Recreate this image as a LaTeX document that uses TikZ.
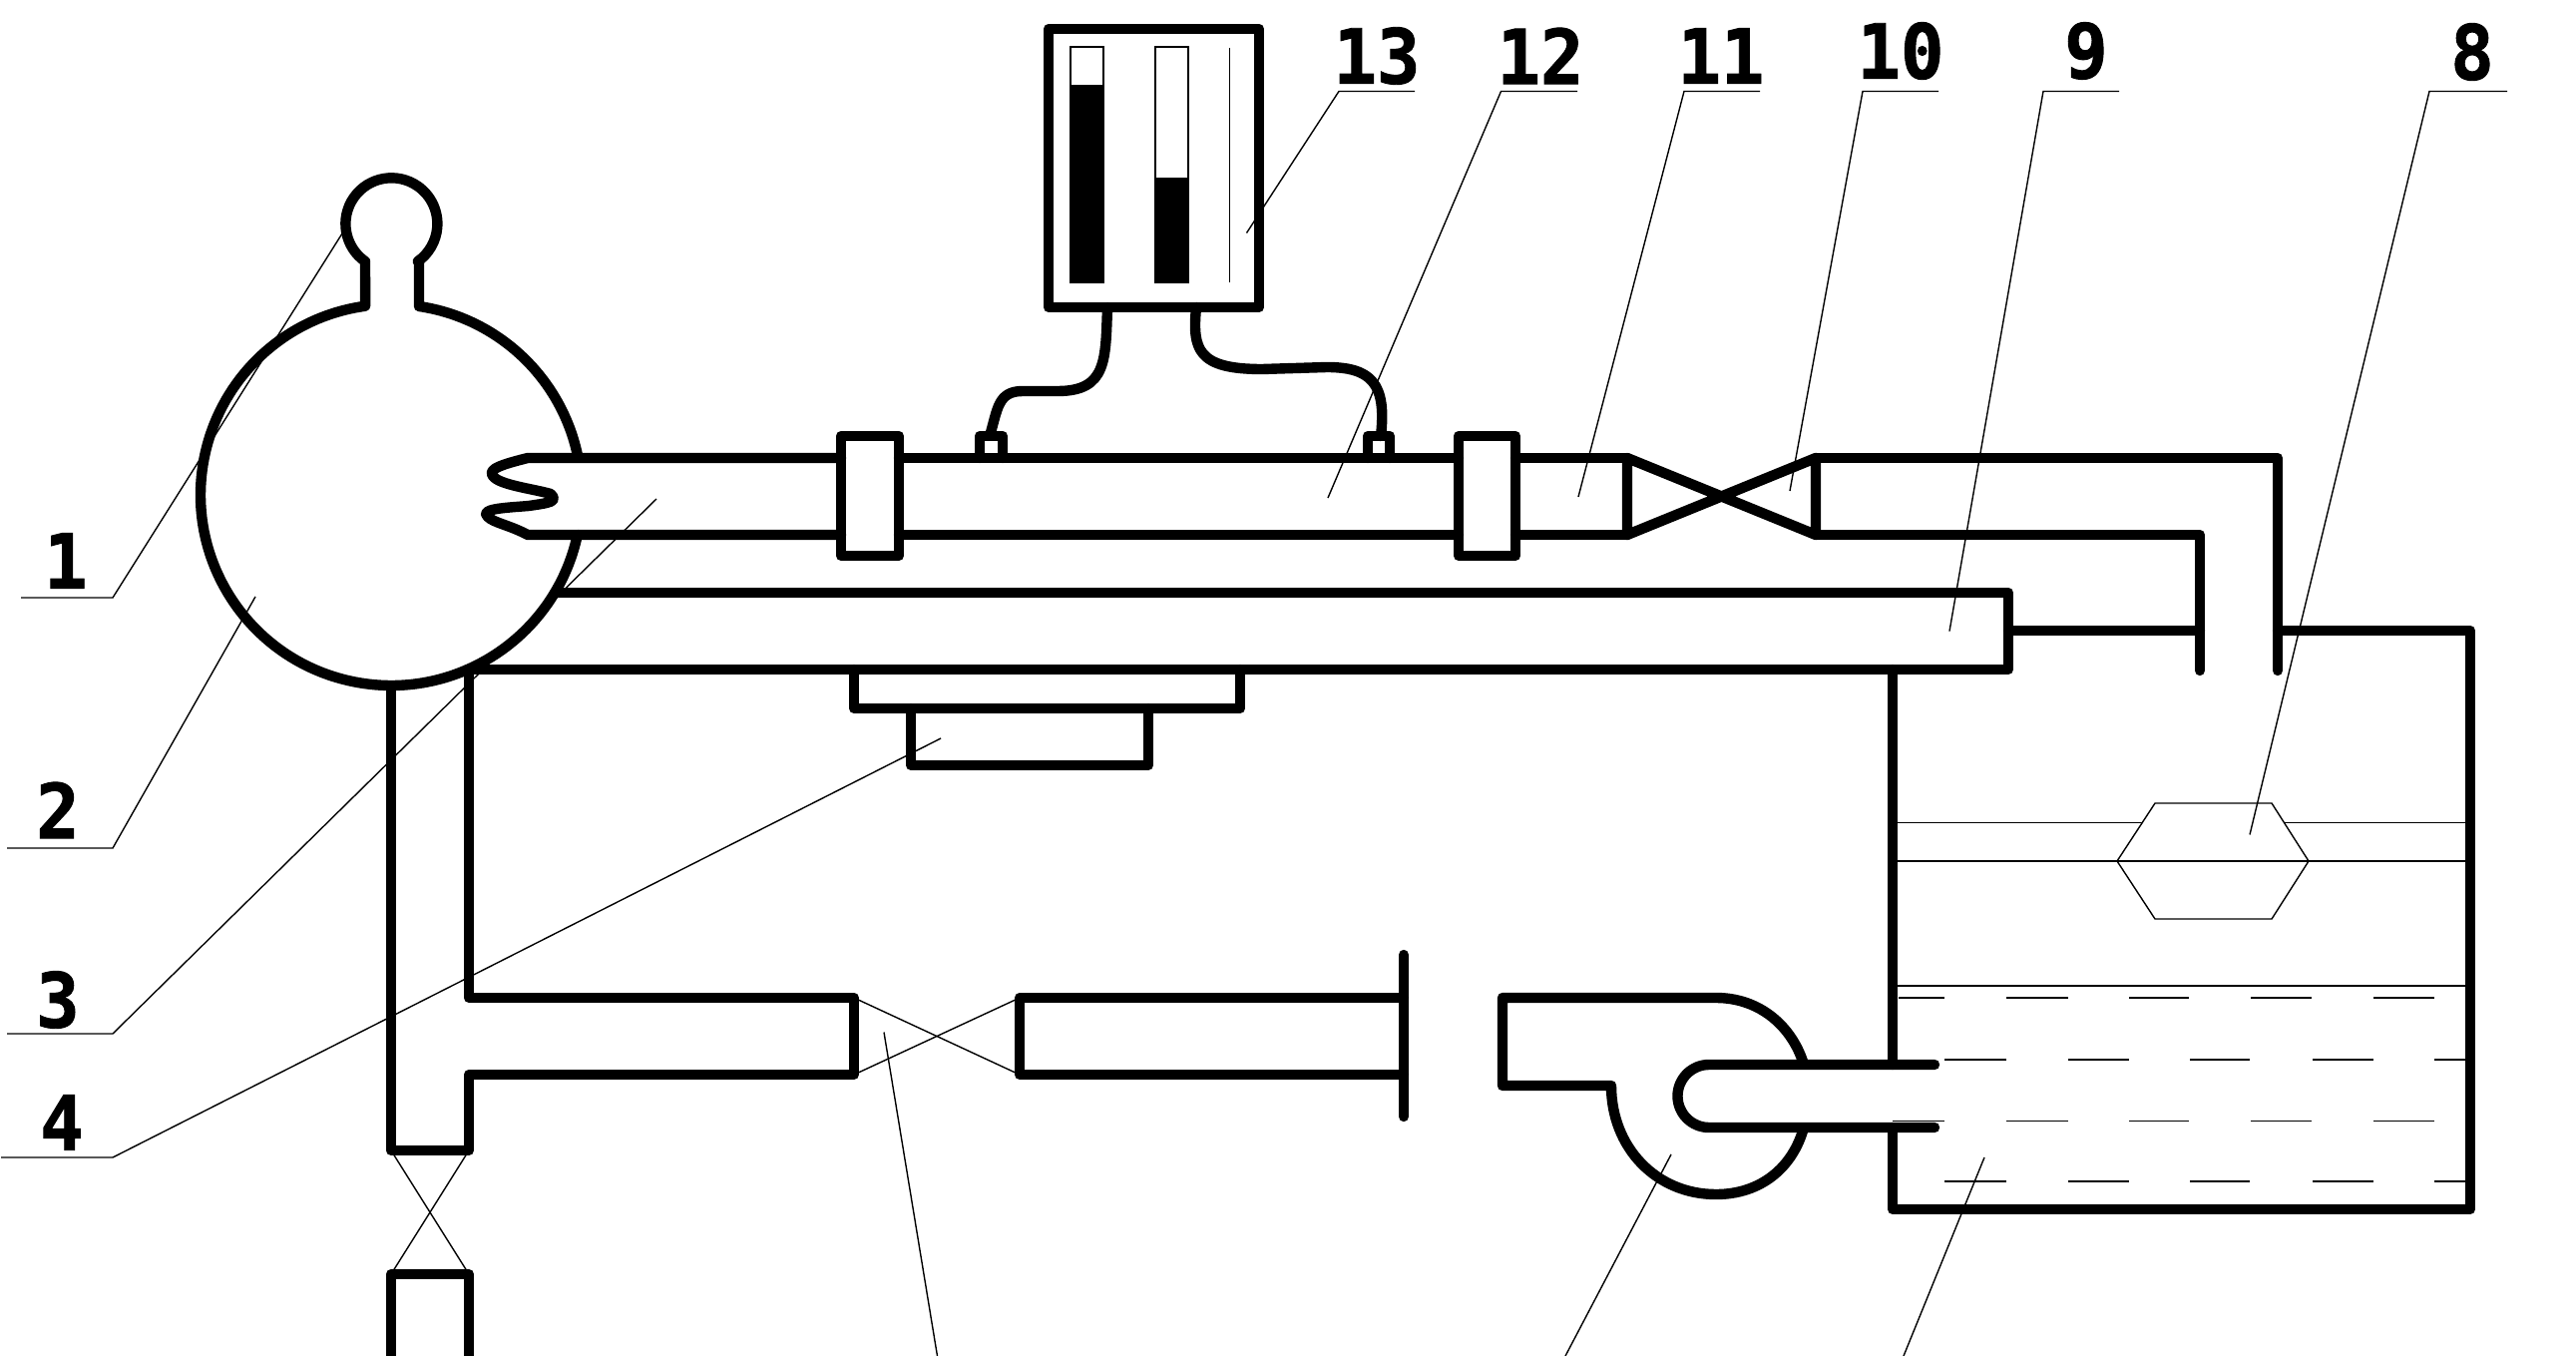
\documentclass[tikz,border=0pt]{standalone}
\usepackage{fontspec}
\newfontfamily\numfont[FakeStretch=0.95,BoldFeatures={FakeBold=1.2}]{DejaVu Sans Mono}
\tikzset{
  pipe/.style={line width=2.6pt,line join=round,line cap=round},
  thinline/.style={line width=0.35pt},
  numlabel/.style={inner sep=0pt,font=\numfont\bfseries\fontsize{19}{19}\selectfont}
}
\begin{document}
\begin{tikzpicture}[x=0.25pt,y=-0.25pt]
  \useasboundingbox (0,0) rectangle (2582,1359);
  % Vessel with head
  \draw[pipe] (578.8,536) arc[start angle=12.1,end angle=262.2,radius=191]
    -- (366,262) arc[start angle=125,end angle=415,radius=46]
    -- (420,262) -- (420,307) arc[start angle=278.4,end angle=348.8,radius=191];
  % Inlet pipe
  \draw[pipe] (843,459) -- (529,459) .. controls (505,465) and (488,470) .. (494,477)
    .. controls (500,486) and (535,490) .. (552,495) .. controls (560,503) and (550,504) .. (530,507)
    .. controls (505,509) and (480,510) .. (489,518) .. controls (495,524) and (510,526) .. (529,536) -- (843,536);
  \draw[pipe] (843,437) rectangle (901,557);
  \draw[pipe] (901,459) -- (1462,459) (901,536) -- (1462,536);
  \draw[pipe] (1462,437) rectangle (1519,557);
  \draw[pipe] (1519,459) -- (1631,459) (1519,536) -- (1631,536);
  % Valve and outlet bend
  \draw[pipe] (1631,459) -- (1631,536) -- (1820,459) -- (1820,536) -- (1631,459);
  \draw[pipe] (1820,459) -- (2283,459) -- (2283,672);
  \draw[pipe] (1820,536) -- (2205,536) -- (2205,672);
  % Meter
  \draw[pipe] (1051,29) rectangle (1262,308);
  \draw[thinline] (1073,47) rectangle (1106,283);
  \fill (1073,85) rectangle (1106,283);
  \draw[thinline] (1158,47) rectangle (1191,283);
  \fill (1158,178) rectangle (1191,283);
  \draw[thinline] (1232.5,48) -- (1232.5,283);
  \draw[pipe] (982,459) -- (982,437) -- (1005,437) -- (1005,459);
  \draw[pipe] (1371,459) -- (1371,437) -- (1393,437) -- (1393,459);
  \draw[pipe] (1110,308) .. controls (1108,360) and (1110,392) .. (1060,392) -- (1025,392)
    .. controls (1000,392) and (1000,410) .. (992,437);
  \draw[pipe] (1199,308) .. controls (1195,350) and (1200,370) .. (1265,370) -- (1330,368)
    .. controls (1375,368) and (1390,385) .. (1384,437);
  % Long duct and branch
  \draw[pipe] (556,594) -- (2013,594) -- (2013,671) -- (468,671);
  \draw[pipe] (2013,632) -- (2205,632);
  \draw[pipe] (856,671) -- (856,710) -- (1243,710) -- (1243,671);
  \draw[pipe] (913,710) -- (913,767) -- (1151,767) -- (1151,710);
  \draw[pipe] (392,688) -- (392,1153) -- (470,1153) -- (470,1077) -- (856,1077) -- (856,1000) -- (470,1000) -- (470,671);
  \draw[thinline] (392,1153) -- (470,1277) (470,1153) -- (392,1277);
  \draw[pipe] (392,1365) -- (392,1277) -- (470,1277) -- (470,1365);
  \draw[thinline] (856,1000) -- (1022,1077) (856,1077) -- (1022,1000);
  \draw[pipe] (1407,1000) -- (1022,1000) -- (1022,1077) -- (1407,1077);
  \draw[pipe] (1407,957) -- (1407,1119);
  % Pump
  \draw[pipe] (1808,1067) .. controls (1797,1030) and (1765,1000) .. (1720,1000) -- (1506,1000)
    -- (1506,1088) -- (1615,1088) .. controls (1615,1150) and (1660,1197) .. (1720,1197)
    .. controls (1765,1197) and (1797,1170) .. (1808,1130);
  \draw[pipe] (1939,1067) -- (1713,1067) arc[start angle=270,end angle=90,radius=31.5] -- (1939,1130);
  % Tank
  \draw[pipe] (1897,671) -- (1897,1067);
  \draw[pipe] (1897,1130) -- (1897,1212) -- (2476,1212) -- (2476,632) -- (2283,632);
  \draw[thinline] (1897,824.5) -- (2148,824.5) (2290,824.5) -- (2476,824.5);
  \draw[thinline] (1897,863) -- (2476,863);
  \draw[thinline] (2122,863) -- (2160,805) -- (2277,805) -- (2314,863) -- (2277,921) -- (2160,921) -- cycle;
  \draw[thinline] (1897,988) -- (2476,988);
  % Water marks
  \foreach \a/\b in {1897/1949,2011/2073,2134/2194,2256/2317,2379/2440} {
    \draw[thinline] (\a,1123.7) -- (\b,1123.7);
  }
  \foreach \a/\b in {1903/1949,2011/2073,2134/2194,2256/2317,2379/2440} {
    \draw[thinline] (\a,1000) -- (\b,1000);
  }
  \foreach \a/\b in {1949/2011,2073/2134,2195/2255,2318/2379,2440/2476} {
    \draw[thinline] (\a,1062) -- (\b,1062);
    \draw[thinline] (\a,1184) -- (\b,1184);
  }
  % Labels
  \node[numlabel] (n1) at (66,562) {1};
  \node[numlabel] (n2) at (58,812) {2};
  \node[numlabel] (n3) at (58,1002) {3};
  \node[numlabel] (n4) at (62,1125) {4};
  \node[numlabel] (n8) at (2478,52) {8};
  \node[numlabel] (n9) at (2091,51) {9};
  \node[numlabel] (n10) at (1905,51) {10};
  \node[numlabel] (n11) at (1725,56) {11};
  \node[numlabel] (n12) at (1544,56) {12};
  \node[numlabel] (n13) at (1380,56) {13};
  % Leaders
  \draw[thinline] (21,599) -- (113,599) -- (343,234);
  \draw[thinline] (7,850) -- (113,850) -- (256,598);
  \draw[thinline] (7,1036) -- (113,1036) -- (658,500);
  \draw[thinline] (1,1160) -- (113,1160) -- (943,740);
  \draw[thinline] (886,1034.5) -- (939.5,1359);
  \draw[thinline] (1675,1157) -- (1569,1359);
  \draw[thinline] (1989,1160) -- (1908,1359);
  \draw[thinline] (2513,91.5) -- (2435,91.5) -- (2255,836.5);
  \draw[thinline] (2124,91.5) -- (2048,91.5) -- (1954,632.6);
  \draw[thinline] (1943,91.5) -- (1867,91.5) -- (1794,492);
  \draw[thinline] (1764,91.5) -- (1688,91.5) -- (1582,498);
  \draw[thinline] (1581,91.5) -- (1504.5,91.5) -- (1331,499);
  \draw[thinline] (1418,91.5) -- (1342,91.5) -- (1249.5,233.5);
\end{tikzpicture}
\end{document}
